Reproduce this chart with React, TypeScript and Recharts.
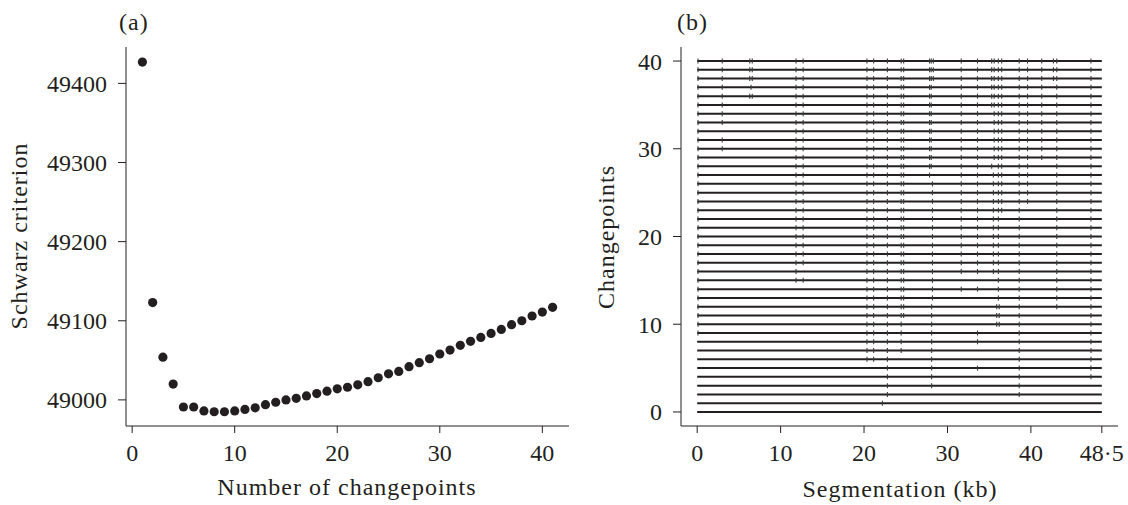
import React from "react";
import { ScatterChart, Scatter, XAxis, YAxis, ReferenceLine } from "recharts";

// panel (a): Schwarz criterion against number of changepoints
const numChangepoints = [
  1, 2, 3, 4, 5, 6, 7, 8, 9, 10, 11, 12, 13, 14, 15, 16, 17, 18, 19, 20, 21,
  22, 23, 24, 25, 26, 27, 28, 29, 30, 31, 32, 33, 34, 35, 36, 37, 38, 39, 40, 41,
];
const schwarz = [
  49427, 49123, 49054, 49020, 48991, 48991, 48986, 48985, 48985, 48986, 48988,
  48990, 48994, 48997, 49000, 49002, 49005, 49008, 49011, 49014, 49016, 49019,
  49023, 49028, 49033, 49036, 49042, 49047, 49052, 49058, 49063, 49069, 49074,
  49079, 49084, 49089, 49095, 49100, 49106, 49111, 49117,
];
const aTicksX = [0, 10, 20, 30, 40];
const aTicksY = [49000, 49100, 49200, 49300, 49400];

// panel (b): changepoint positions (kb), index = number of changepoints
const segmentations: number[][] = [
  [],
  [22.2],
  [22.8, 38.6],
  [22.8, 28.1, 38.6],
  [22.8, 28.1, 38.6, 47.2],
  [22.8, 28.1, 33.6, 38.6, 47.2],
  [20.35, 21.15, 22.8, 28.1, 38.6, 47.2],
  [20.35, 21.15, 22.8, 24.45, 28.1, 38.6, 47.2],
  [20.35, 21.15, 22.8, 24.45, 28.1, 33.6, 38.6, 47.2],
  [0.1, 20.35, 21.15, 22.8, 24.45, 28.1, 33.6, 38.6, 47.2],
  [0.1, 20.35, 21.15, 22.8, 24.45, 28.1, 35.9, 36.2, 38.6, 47.2],
  [0.1, 20.35, 21.15, 22.8, 24.45, 24.75, 28.1, 35.9, 36.2, 38.6, 47.2],
  [0.1, 20.35, 21.15, 22.8, 24.45, 24.75, 28.1, 35.9, 36.2, 38.6, 43.1, 47.2],
  [0.1, 20.35, 21.15, 22.8, 24.45, 24.75, 28.2, 36.1, 38.6, 43.1, 47.2],
  [0.1, 20.35, 21.15, 22.8, 24.45, 24.75, 28.2, 31.65, 33.6, 36.1, 38.6, 43.1, 47.2],
  [0.1, 11.85, 12.7, 20.35, 21.15, 22.8, 24.45, 24.75, 28.2, 36.1, 38.6, 43.1, 47.2],
  [0.1, 11.85, 20.35, 21.15, 22.8, 24.45, 24.75, 28.2, 31.65, 33.6, 35.5, 36.1, 38.6, 43.1, 47.2],
  [0.1, 11.85, 12.7, 20.35, 21.15, 22.8, 24.45, 24.75, 28.2, 31.65, 33.6, 35.5, 36.1, 38.6, 43.1, 47.2],
  [0.1, 11.85, 12.7, 20.35, 21.15, 22.8, 24.45, 24.75, 28.2, 31.65, 33.6, 35.5, 36.1, 38.6, 43.1, 47.2],
  [0.1, 11.85, 12.7, 20.35, 21.15, 22.8, 24.45, 24.75, 28.2, 31.65, 33.6, 35.5, 36.1, 38.6, 43.1, 47.2],
  [0.1, 11.85, 12.7, 20.35, 21.15, 22.8, 24.45, 24.75, 28.2, 31.65, 33.6, 35.5, 36.1, 38.6, 43.1, 47.2],
  [0.1, 11.85, 12.7, 20.35, 21.15, 22.8, 24.45, 24.75, 28.2, 31.65, 33.6, 35.5, 36.1, 38.6, 43.1, 47.2],
  [0.1, 11.85, 12.7, 20.35, 21.15, 22.8, 24.45, 24.75, 28.2, 31.65, 33.6, 35.5, 36.1, 38.6, 43.1, 47.2],
  [0.1, 11.85, 12.7, 20.35, 21.15, 22.8, 24.45, 24.75, 28.2, 31.65, 33.6, 35.5, 36.1, 36.5, 38.6, 43.1, 47.2],
  [0.1, 11.85, 12.7, 20.35, 21.15, 22.8, 24.45, 24.75, 28.2, 31.65, 33.6, 35.5, 36.1, 36.5, 38.6, 39.6, 43.1, 47.2],
  [0.1, 11.85, 12.7, 20.35, 21.15, 22.8, 24.45, 24.75, 28.2, 31.65, 33.6, 35.5, 36.1, 36.5, 38.6, 39.6, 43.1, 47.2],
  [0.1, 11.85, 12.7, 20.35, 21.15, 22.8, 24.45, 24.75, 28.2, 31.65, 33.6, 35.5, 36.1, 36.5, 38.6, 39.6, 43.1, 47.2],
  [0.1, 11.85, 12.7, 20.35, 21.15, 22.8, 24.45, 24.75, 27.85, 31.65, 33.6, 35.5, 36.1, 36.5, 38.6, 39.6, 43.1, 47.2],
  [0.1, 11.85, 12.7, 20.35, 21.15, 22.8, 24.45, 24.75, 27.85, 28.05, 31.65, 33.6, 35.3, 36.1, 36.5, 38.6, 39.6, 43.1, 47.2],
  [0.1, 11.85, 12.7, 20.35, 21.15, 22.8, 24.45, 24.75, 27.85, 28.05, 31.65, 33.6, 35.6, 36.1, 36.5, 38.6, 39.6, 41.3, 43.1, 47.2],
  [0.1, 3.0, 11.85, 12.7, 20.35, 21.15, 22.8, 24.45, 24.75, 27.85, 28.05, 31.65, 33.6, 35.6, 36.1, 36.5, 38.6, 39.6, 41.3, 43.1, 47.2],
  [0.1, 3.0, 11.85, 12.7, 20.35, 21.15, 22.8, 24.45, 24.75, 27.85, 28.05, 31.65, 33.6, 35.6, 36.1, 36.5, 38.6, 39.6, 41.3, 43.1, 47.2],
  [0.1, 11.85, 12.7, 20.35, 21.15, 22.8, 24.45, 24.75, 27.85, 28.05, 31.65, 33.6, 35.6, 36.1, 36.5, 38.6, 39.6, 41.3, 43.1, 47.2],
  [0.1, 3.0, 11.85, 12.7, 20.35, 21.15, 22.8, 24.45, 24.75, 27.85, 28.05, 31.65, 33.6, 35.6, 36.1, 36.5, 38.6, 39.6, 41.3, 43.1, 47.2],
  [0.1, 3.0, 11.85, 12.7, 20.35, 21.15, 22.8, 24.45, 24.75, 27.85, 28.05, 31.65, 33.6, 35.6, 36.1, 36.5, 38.6, 39.6, 41.3, 43.1, 47.2],
  [0.1, 3.0, 11.85, 12.7, 20.35, 21.15, 22.8, 24.45, 24.75, 27.85, 28.05, 31.65, 33.6, 35.3, 35.6, 36.1, 36.5, 38.6, 39.6, 41.3, 43.1, 47.2],
  [0.1, 3.0, 6.3, 6.6, 11.85, 12.7, 20.35, 21.15, 22.8, 24.45, 24.75, 27.85, 28.05, 31.65, 33.6, 35.3, 35.6, 36.1, 36.5, 38.6, 39.6, 41.3, 43.1, 47.2],
  [0.1, 3.0, 6.45, 11.85, 12.7, 20.35, 21.15, 22.8, 24.45, 24.75, 27.85, 28.05, 31.65, 33.6, 35.3, 35.6, 36.1, 36.5, 38.6, 39.6, 41.3, 43.1, 47.2],
  [0.1, 3.0, 6.3, 6.6, 11.85, 12.7, 20.35, 21.15, 22.8, 24.45, 24.75, 27.85, 28.05, 28.3, 31.65, 33.6, 35.3, 35.6, 36.1, 36.5, 38.6, 39.6, 41.3, 42.7, 43.1, 47.2],
  [0.1, 3.0, 6.3, 6.6, 11.85, 12.7, 20.35, 21.15, 22.8, 24.45, 24.75, 27.85, 28.05, 28.3, 31.65, 33.6, 35.3, 35.6, 36.1, 36.5, 38.6, 39.6, 41.3, 42.7, 43.1, 47.2],
  [0.1, 3.0, 6.3, 6.6, 11.85, 12.7, 20.35, 21.15, 22.8, 24.45, 24.75, 27.85, 28.05, 28.3, 31.65, 33.6, 35.3, 35.6, 36.1, 36.5, 38.6, 39.6, 41.3, 42.7, 43.1, 47.2],
];
const seqLength = 48.5;
const bTicksX = [0, 10, 20, 30, 40, 48.5];
const bTicksY = [0, 10, 20, 30, 40];

const INK = "#231f20";
const FONT = "'Liberation Serif', 'Times New Roman', serif";
const tickFont = { fontSize: 24, fill: INK, fontFamily: FONT };
const titleProps = { fontSize: 24, fill: INK, fontFamily: FONT, letterSpacing: 1 };

const criterionData = numChangepoints.map((n, i) => ({ x: n, y: schwarz[i] }));
const cpMarks = segmentations.flatMap((cps, k) => cps.map((kb) => ({ x: kb, y: k })));

const Dot = (p: any) => <circle cx={p.cx} cy={p.cy} r={4.6} fill={INK} />;
const Mark = (p: any) => (
  <line x1={p.cx} x2={p.cx} y1={p.cy - 2.5} y2={p.cy + 2.5} stroke="#3a3a3a" strokeWidth={1.1} />
);

export default function App() {
  return (
    <div style={{ position: "absolute", left: 0, top: 0, width: 1128, height: 505, background: "#fff" }}>
      <div style={{ position: "absolute", left: 0, top: 0 }}>
        <ScatterChart width={580} height={505} margin={{ top: 47, right: 11, bottom: 0, left: 0 }}>
          <XAxis
            type="number"
            dataKey="x"
            domain={[-0.6, 42.6]}
            ticks={aTicksX}
            interval={0}
            allowDataOverflow
            height={79}
            tickSize={7}
            tickMargin={11}
            tick={tickFont}
            axisLine={{ stroke: INK }}
            tickLine={{ stroke: INK }}
          />
          <XAxis xAxisId="top" orientation="top" type="number" domain={[-0.6, 42.6]} height={0} tick={false} tickLine={false} axisLine={{ stroke: INK }} />
          <YAxis
            type="number"
            dataKey="y"
            domain={[48967, 49446]}
            ticks={aTicksY}
            interval={0}
            allowDataOverflow
            width={126}
            tickSize={8}
            tickMargin={11}
            tick={tickFont}
            axisLine={{ stroke: INK }}
            tickLine={{ stroke: INK }}
          />
          <YAxis yAxisId="right" orientation="right" type="number" domain={[48967, 49446]} width={0} tick={false} tickLine={false} axisLine={{ stroke: INK }} />
          <Scatter data={criterionData} shape={Dot} isAnimationActive={false} />
          <text x={119} y={30} {...titleProps}>(a)</text>
          <text x={347} y={495} textAnchor="middle" {...titleProps}>Number of changepoints</text>
          <text x={27} y={236} textAnchor="middle" transform="rotate(-90 27 236)" {...titleProps}>Schwarz criterion</text>
        </ScatterChart>
      </div>
      <div style={{ position: "absolute", left: 580, top: 0 }}>
        <ScatterChart width={548} height={505} margin={{ top: 47, right: 10, bottom: 0, left: 0 }}>
          <XAxis
            type="number"
            dataKey="x"
            domain={[-1.94, 50.44]}
            ticks={bTicksX}
            interval={0}
            allowDataOverflow
            height={79}
            tickSize={7}
            tickMargin={11}
            tick={tickFont}
            tickFormatter={(v: number) => String(v).replace(".", "·")}
            axisLine={{ stroke: INK }}
            tickLine={{ stroke: INK }}
          />
          <XAxis xAxisId="top" orientation="top" type="number" domain={[-1.94, 50.44]} height={0} tick={false} tickLine={false} axisLine={{ stroke: INK }} />
          <YAxis
            type="number"
            dataKey="y"
            domain={[-1.6, 41.6]}
            ticks={bTicksY}
            interval={0}
            allowDataOverflow
            width={101}
            tickSize={8}
            tickMargin={11}
            tick={tickFont}
            axisLine={{ stroke: INK }}
            tickLine={{ stroke: INK }}
          />
          <YAxis yAxisId="right" orientation="right" type="number" domain={[-1.6, 41.6]} width={0} tick={false} tickLine={false} axisLine={{ stroke: INK }} />
          {segmentations.map((_, k) => (
            <ReferenceLine
              key={k}
              segment={[{ x: 0, y: k }, { x: seqLength, y: k }]}
              stroke={INK}
              strokeWidth={2}
              ifOverflow="visible"
            />
          ))}
          <Scatter data={cpMarks} shape={Mark} isAnimationActive={false} />
          <text x={97} y={30} {...titleProps}>(b)</text>
          <text x={320} y={497} textAnchor="middle" {...titleProps}>Segmentation (kb)</text>
          <text x={34} y={237} textAnchor="middle" transform="rotate(-90 34 237)" {...titleProps}>Changepoints</text>
        </ScatterChart>
      </div>
    </div>
  );
}
